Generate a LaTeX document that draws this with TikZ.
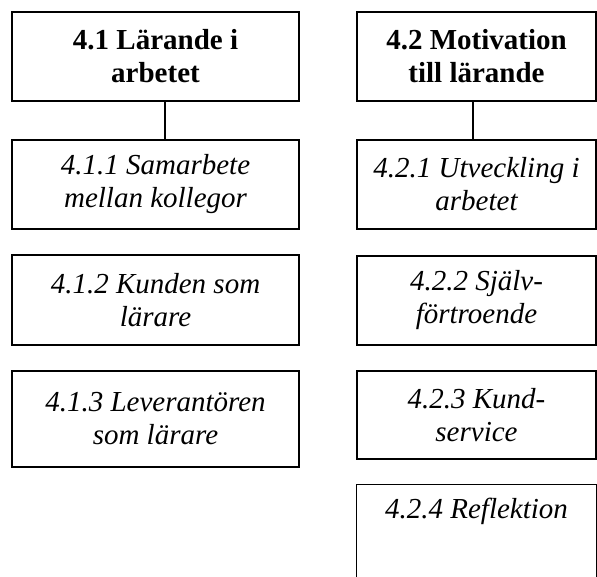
\documentclass[tikz,border=0pt]{standalone}
\usepackage{fontspec}
\setmainfont{Liberation Serif}
\begin{document}
\begin{tikzpicture}[x=1pt,y=-1pt,
  box/.style={draw, line width=1.3pt, rectangle, align=center, inner sep=0pt},
  head/.style={box, font=\fontsize{29}{33}\selectfont\bfseries},
  sub/.style={box, font=\fontsize{29}{33}\selectfont\itshape},
  lbox/.style={minimum width=287pt},
  rbox/.style={minimum width=239pt},
  link/.style={line width=1.3pt}]
\useasboundingbox (0,0) rectangle (597,576);
\clip (0,0) rectangle (597,576);
% left column
\node[head, lbox, minimum height=89pt] (a) at (155.5,56.5) {4.1 Lärande i\\arbetet};
\node[sub, lbox, minimum height=89pt] (b) at (155.5,184.5) {4.1.1 Samarbete\\mellan kollegor};
\node[sub, lbox, minimum height=90pt] (c) at (155.5,300) {4.1.2 Kunden som\\lärare};
\node[sub, lbox, minimum height=96pt] (d) at (155.5,419) {4.1.3 Leverantören\\som lärare};
% right column
\node[head, rbox, minimum height=89pt] (e) at (476.5,56.5) {4.2 Motivation\\till lärande};
\node[sub, rbox, minimum height=89pt] (f) at (476.5,184.5) {4.2.1 Utveckling i\\arbetet};
\node[sub, rbox, minimum height=89pt] (g) at (476.5,300.5) {4.2.2 Själv-\\förtroende};
\node[sub, rbox, minimum height=88pt] (h) at (476.5,415) {4.2.3 Kund-\\service};
\node[sub, rbox, minimum height=89pt, draw=none] (i) at (476.5,529.5) {4.2.4 Reflektion\\\strut};
\draw[link] ([yshift=-20pt]i.south west) -- (i.north west) -- (i.north east) -- ([yshift=-20pt]i.south east);
% connectors
\draw[link] ([xshift=9.5pt]a.south) -- ([xshift=9.5pt]b.north);
\draw[link] ([xshift=-3.5pt]e.south) -- ([xshift=-3.5pt]f.north);
\end{tikzpicture}
\end{document}
